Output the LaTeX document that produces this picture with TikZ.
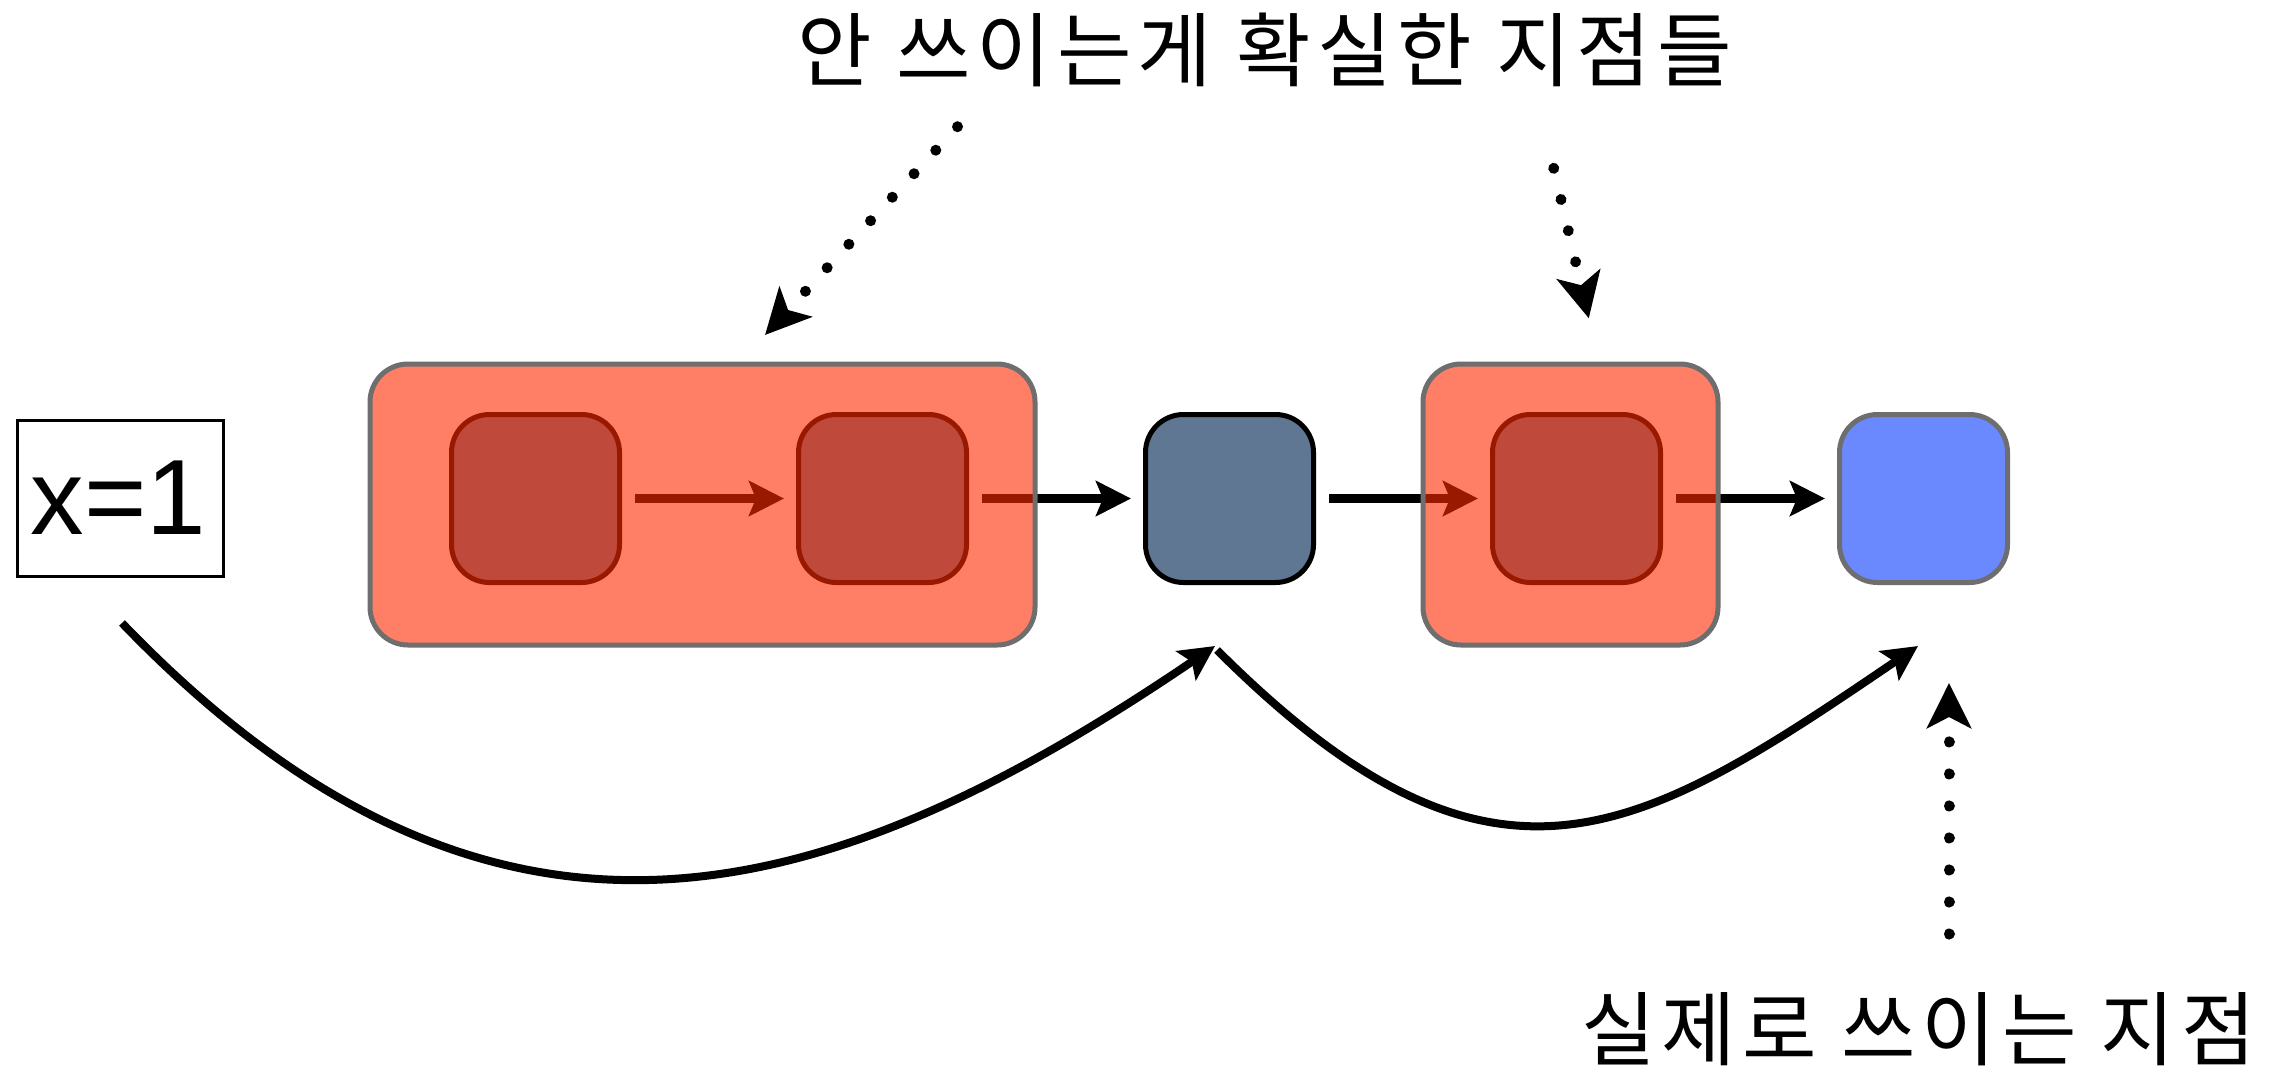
\documentclass[tikz,border=0pt]{standalone}
\usepackage{fontspec}
\newfontfamily\krfont[LetterSpace=7.4]{Noto Sans CJK KR}
\newfontfamily\latfont{Liberation Sans}
\usetikzlibrary{arrows.meta}
\definecolor{slate}{RGB}{95,119,146}
\definecolor{bright}{RGB}{107,137,255}
\definecolor{edgegray}{RGB}{110,110,110}
\definecolor{overlayred}{RGB}{255,43,0}
\begin{document}
\begin{tikzpicture}[x=1pt,y=-1pt,
  blk/.style={rectangle, rounded corners=38pt, minimum width=168pt, minimum height=168pt, line width=5pt, inner sep=0pt},
  grp/.style={rectangle, rounded corners=38pt, line width=5pt, draw=edgegray, fill=overlayred, fill opacity=0.6, inner sep=0pt},
  flow/.style={line width=8.5pt, -{Stealth[length=35pt,width=35pt,inset=7pt]}, shorten <=13pt, shorten >=12pt},
  bendarrow/.style={line width=8pt, -{Stealth[length=35pt,width=35pt,inset=7pt]}},
  dotarrow/.style={line width=11pt, line cap=round, dash pattern=on 0.01pt off 32pt, -{Stealth[length=45pt,width=44pt,inset=11pt]}},
  label/.style={font=\krfont\fontsize{81}{81}\selectfont, inner sep=0pt}
]
\useasboundingbox (0,0) rectangle (2293,1072);
\fill[white] (0,0) rectangle (2293,1072);

\node[draw, line width=3pt, minimum width=206pt, minimum height=156pt, inner sep=0pt] (x1) at (120.6,498)
  {\hbox to 206pt{\hskip 13pt\latfont\fontsize{107}{107}\selectfont x=1\hfil}};

\node[blk, draw=black, fill=slate] (a) at (535.5,498.5) {};
\node[blk, draw=black, fill=slate] (b) at (882.5,498.5) {};
\node[blk, draw=black, fill=slate] (c) at (1229.5,498.5) {};
\node[blk, draw=black, fill=slate] (d) at (1576.5,498.5) {};
\node[blk, draw=edgegray, fill=bright] (e) at (1923.5,498.5) {};

\draw[flow] (a) -- (b);
\draw[flow] (b) -- (c);
\draw[flow] (c) -- (d);
\draw[flow] (d) -- (e);

\node[grp, minimum width=665pt, minimum height=281pt] (g1) at (702.5,504.5) {};
\node[grp, minimum width=295pt, minimum height=281pt] (g2) at (1570.5,504.5) {};

\coordinate (s1) at (122,623);
\coordinate (t1) at (1215,646);
\coordinate (s2) at (1217,650);
\coordinate (t2) at (1918,646);
\draw[bendarrow] (s1) .. controls (499,1015) and (838,902) .. (t1);
\draw[bendarrow] (s2) .. controls (1495,928) and (1640,835) .. (t2);

\node[label] (top) at (1264.7,50) {안 쓰이는게 확실한 지점들};
\node[label] (bot) at (1918.6,1029) {실제로 쓰이는 지점};

\coordinate (d1s) at (957.5,126.7);
\coordinate (d1t) at (765,335);
\coordinate (d2s) at (1553.7,168.3);
\coordinate (d2t) at (1588.8,318.3);
\coordinate (d3s) at (1949,934);
\coordinate (d3t) at (1949,683);
\draw[dotarrow] (d1s) -- (d1t);
\draw[dotarrow] (d2s) -- (d2t);
\draw[dotarrow] (d3s) -- (d3t);
\end{tikzpicture}
\end{document}
